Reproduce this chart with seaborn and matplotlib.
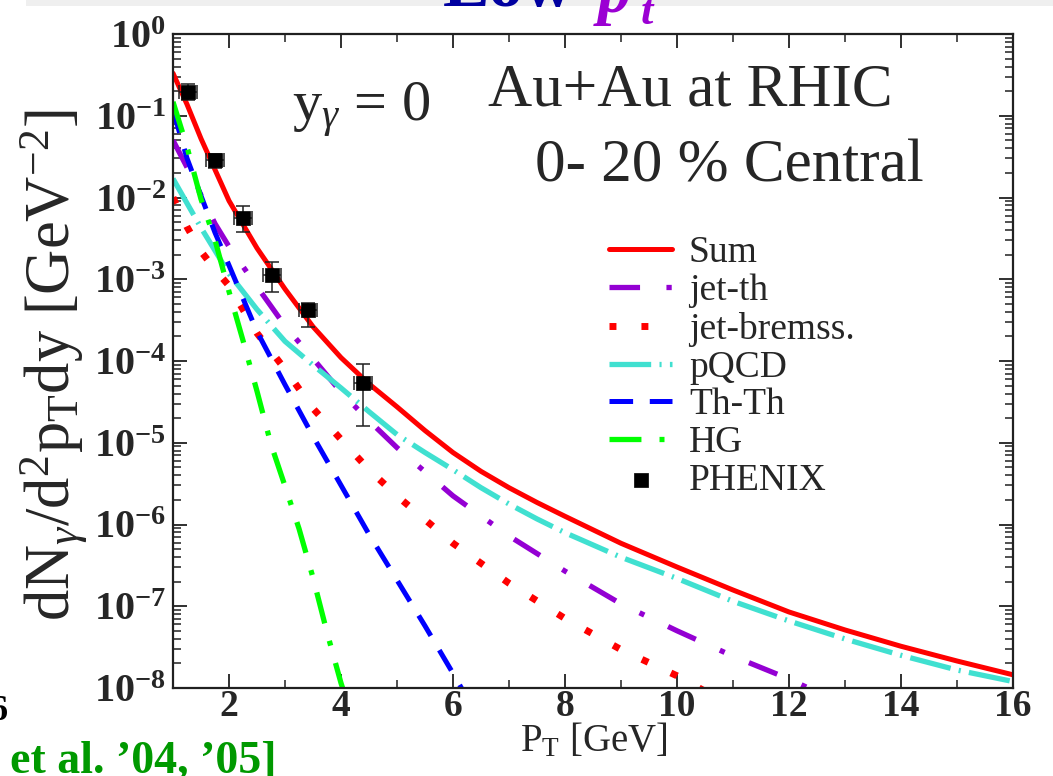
import numpy as np
import pandas as pd
import matplotlib
matplotlib.use("Agg")
import matplotlib.pyplot as plt
import seaborn as sns
from matplotlib.patches import Rectangle

# ---------------- data ----------------
pt_main = [1, 1.25, 1.5, 1.75, 2, 2.5, 3, 3.5, 4, 4.5, 5, 5.5, 6, 6.5, 7, 7.5, 8,
           9, 10, 11, 12, 13, 14, 15, 16]
sum_vals = [3.31e-1, 1.38e-1, 5.25e-2, 2.19e-2, 9.12e-3, 2.40e-3, 7.59e-4, 2.63e-4, 1.10e-4,
            5.25e-5, 2.75e-5, 1.41e-5, 7.59e-6, 4.47e-6, 2.82e-6, 1.86e-6, 1.26e-6,
            5.89e-7, 3.02e-7, 1.58e-7, 8.51e-8, 5.13e-8, 3.24e-8, 2.14e-8, 1.45e-8]
pqcd_vals = [1.70e-2, 8.51e-3, 4.27e-3, 2.24e-3, 1.17e-3, 4.27e-4, 1.74e-4, 8.91e-5, 4.68e-5,
             2.40e-5, 1.26e-5, 7.59e-6, 4.68e-6, 2.82e-6, 1.78e-6, 1.17e-6, 7.94e-7,
             3.98e-7, 2.19e-7, 1.15e-7, 6.61e-8, 3.98e-8, 2.51e-8, 1.66e-8, 1.20e-8]

pt_jetth = [1, 1.25, 1.5, 1.75, 2, 2.5, 3, 3.5, 4, 4.5, 5, 6, 7, 8, 9, 10, 11, 12, 12.5]
jetth_vals = [5.01e-2, 2.34e-2, 1.07e-2, 4.79e-3, 2.51e-3, 8.13e-4, 2.69e-4, 1.07e-4, 4.17e-5,
              1.86e-5, 8.71e-6, 2.24e-6, 7.24e-7, 2.69e-7, 1.07e-7, 5.01e-8, 2.45e-8, 1.29e-8, 8.91e-9]

pt_brems = [1, 1.25, 1.5, 1.75, 2, 2.5, 3, 3.5, 4, 4.5, 5, 6, 7, 8, 9, 10, 10.5]
brems_vals = [1.00e-2, 4.37e-3, 2.19e-3, 1.32e-3, 8.32e-4, 2.19e-4, 7.94e-5, 2.63e-5, 1.10e-5,
              4.68e-6, 2.24e-6, 5.89e-7, 1.91e-7, 7.08e-8, 2.95e-8, 1.41e-8, 9.12e-9]

pt_thth = [1, 1.25, 1.5, 1.75, 2, 2.5, 3, 3.5, 4, 4.5, 5, 5.5, 6, 6.2]
thth_vals = [1.17e-1, 3.02e-2, 1.05e-2, 3.72e-3, 1.48e-3, 2.29e-4, 5.13e-5, 1.20e-5, 3.02e-6,
             7.59e-7, 2.09e-7, 5.75e-8, 1.51e-8, 8.71e-9]

pt_hg = [1, 1.25, 1.5, 1.75, 2, 2.25, 2.5, 2.75, 3, 3.25, 3.5, 3.75, 4, 4.1]
hg_vals = [1.48e-1, 4.17e-2, 9.55e-3, 3.02e-3, 7.08e-4, 1.78e-4, 4.27e-5, 9.55e-6, 2.95e-6,
           8.91e-7, 2.24e-7, 4.79e-8, 1.15e-8, 7.08e-9]

phenix_pt = [1.27, 1.75, 2.25, 2.76, 3.41, 4.40]
phenix_y = [1.95e-1, 2.88e-2, 5.6e-3, 1.12e-3, 4.2e-4, 5.4e-5]
phenix_lo = [1.58e-1, 2.29e-2, 3.8e-3, 6.9e-4, 2.6e-4, 1.6e-5]
phenix_hi = [2.45e-1, 3.39e-2, 7.8e-3, 1.62e-3, 5.1e-4, 9.3e-5]
phenix_xerr = [0.16, 0.16, 0.16, 0.16, 0.16, 0.16]

series_names = ["Sum", "jet-th", "jet-bremss.", "pQCD", "Th-Th", "HG"]
xticks_major = [2, 4, 6, 8, 10, 12, 14, 16]
xticks_minor = [1, 3, 5, 7, 9, 11, 13, 15]
ytick_vals = [1e0, 1e-1, 1e-2, 1e-3, 1e-4, 1e-5, 1e-6, 1e-7, 1e-8]
ytick_exps = ["0", "-1", "-2", "-3", "-4", "-5", "-6", "-7", "-8"]

# ---------------- style ----------------
sns.set_theme(style="ticks")
plt.rcParams.update({
    "font.family": ["Liberation Serif", "DejaVu Serif"],
    "mathtext.fontset": "custom",
    "mathtext.rm": "Liberation Serif",
    "mathtext.it": "Liberation Serif:italic",
    "mathtext.bf": "Liberation Serif:bold",
    "lines.scale_dashes": False,
    "axes.linewidth": 1.5,
})

W, H = 1053, 776
fig = plt.figure(figsize=(W / 100, H / 100), dpi=100)
fig.patch.set_facecolor("white")


def fx(px):
    return px / W


def fy(py):
    return 1 - py / H


ax = fig.add_axes([fx(173), fy(688), fx(1013) - fx(173), fy(34) - fy(688)])
ax.set_facecolor("white")

RED = "#FF0000"
VIOLET = "#9400D3"
TURQ = "#40E0D0"
BLUE = "#0000FF"
GREEN = "#00FF00"

specs = [
    (pt_main, sum_vals, RED, 3.6, "-"),
    (pt_jetth, jetth_vals, VIOLET, 3.8, (0, (22, 19, 3.8, 19))),
    (pt_brems, brems_vals, RED, 5.0, (0, (5, 18))),
    (pt_main, pqcd_vals, TURQ, 3.8, (0, (30, 6, 1.5, 6))),
    (pt_thth, thth_vals, BLUE, 3.6, (0, (17, 12))),
    (pt_hg, hg_vals, GREEN, 3.8, (0, (23, 13, 3.6, 13))),
]
for (xs, ys, c, lw, ls), name in zip(specs, series_names):
    df = pd.DataFrame({"pt": xs, "y": ys})
    sns.lineplot(data=df, x="pt", y="y", ax=ax, color=c, lw=lw, linestyle=ls,
                 label=name, sort=False, estimator=None, legend=False, clip_on=True)

# PHENIX data
ph = pd.DataFrame({"pt": phenix_pt, "y": phenix_y})
yerr = [np.array(phenix_y) - np.array(phenix_lo), np.array(phenix_hi) - np.array(phenix_y)]
ax.errorbar(phenix_pt, phenix_y, xerr=phenix_xerr, yerr=yerr, fmt="none",
            ecolor="#202020", elinewidth=1.1, capsize=5, capthick=1.1, zorder=6)
sns.scatterplot(data=ph, x="pt", y="y", ax=ax, marker="s", s=95, color="black",
                edgecolor="black", linewidth=0.5, label="PHENIX", zorder=7, legend=False)

# axes
ax.set_yscale("log")
ax.set_xlim(1, 16)
ax.set_ylim(1e-8, 1)
ax.set_xticks(xticks_major, labels=[str(v) for v in xticks_major])
ax.set_xticks(xticks_minor, minor=True)
ax.set_yticks(ytick_vals, labels=[r"$\mathbf{10^{%s}}$" % e for e in ytick_exps])
ax.yaxis.set_minor_locator(matplotlib.ticker.LogLocator(base=10, subs=np.arange(2, 10), numticks=20))
ax.yaxis.set_minor_formatter(matplotlib.ticker.NullFormatter())
ax.tick_params(which="both", direction="in", top=True, right=True, color="#202020")
ax.tick_params(which="major", length=10, width=1.3)
ax.tick_params(which="minor", length=5.5, width=1.1)
ax.tick_params(axis="x", which="major", labelsize=27, pad=1)
ax.tick_params(axis="y", which="major", labelsize=29, pad=5)
for lab in ax.get_xticklabels():
    lab.set_fontweight("bold")
for sp in ax.spines.values():
    sp.set_linewidth(1.6)
    sp.set_color("#202020")

ax.set_xlabel(r"P$_\mathrm{T}$ [GeV]", fontsize=28)
ax.xaxis.set_label_coords(0.501, -0.052)
ax.set_ylabel(r"dN$_\gamma$/d$^2$p$_\mathrm{T}$dy [GeV$^{-2}$]", fontsize=45)
ax.yaxis.set_label_coords(-0.100, 0.494)

# annotations
ax.text(fx(292), fy(121), r"y$_\gamma$ = 0", transform=fig.transFigure, fontsize=42,
        ha="left", va="baseline")
ax.text(fx(893), fy(106), "Au+Au at RHIC", transform=fig.transFigure, fontsize=44,
        ha="right", va="baseline")
ax.text(fx(924), fy(181), "0- 20 % Central", transform=fig.transFigure, fontsize=44,
        ha="right", va="baseline")

# legend
handles, labels = ax.get_legend_handles_labels()
leg = ax.legend(handles, labels, loc="upper left", bbox_to_anchor=(fx(609), fy(236)),
                bbox_transform=fig.transFigure, frameon=False, fontsize=27,
                borderpad=0, borderaxespad=0, handlelength=1.68, handletextpad=0.45,
                labelspacing=0.09)

# slide remnants around the chart
fig.patches.append(Rectangle((fx(26), fy(6)), 1 - fx(26), 6 / H, transform=fig.transFigure,
                             facecolor="#EFEFEF", edgecolor="none", zorder=0))
fig.text(fx(443), fy(6), "Low", fontsize=50, fontweight="bold", color="#0000A0",
         ha="left", va="baseline")
fig.text(fx(598), fy(12), "p", fontsize=48, fontweight="bold", style="italic",
         color="#9B00D3", ha="left", va="baseline")
fig.text(fx(641), fy(24), "t", fontsize=32, fontweight="bold", style="italic",
         color="#9B00D3", ha="left", va="baseline")
fig.text(fx(8), fy(720), "6", fontsize=26, fontweight="bold", color="black",
         ha="right", va="baseline")
fig.text(fx(10), fy(773), "et al. \u201904, \u201905]", fontsize=33, fontweight="bold",
         color="#009900", ha="left", va="baseline")

fig.savefig("out.png", dpi=100, facecolor="white")
